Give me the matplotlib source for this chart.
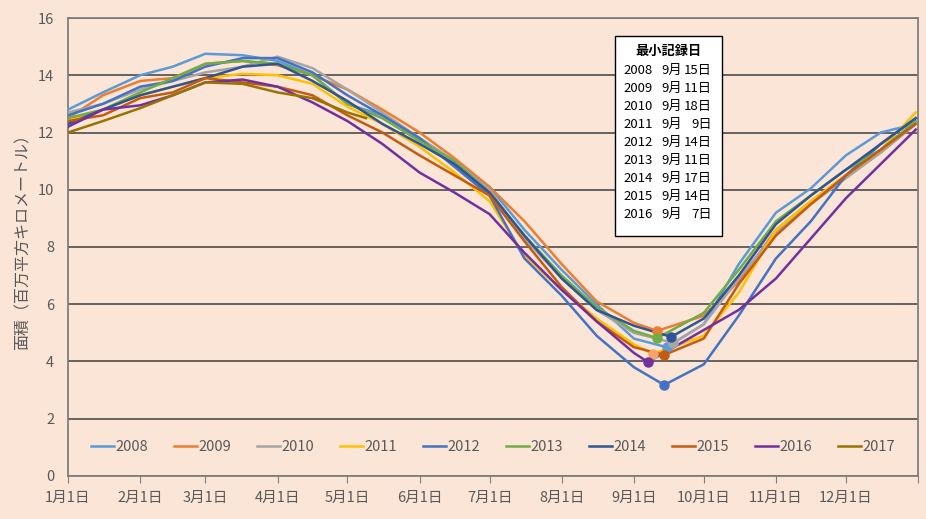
import matplotlib
matplotlib.use("Agg")
import matplotlib.pyplot as plt
from matplotlib.patches import Rectangle

plt.rcParams["font.family"] = ["Noto Sans CJK JP", "DejaVu Sans"]

# ── DATA ──────────────────────────────────────────────────────────────────────
days = [0, 15, 31, 45, 59, 75, 90, 105, 120, 135, 151, 166, 181, 196, 212,
        227, 243, 273, 288, 304, 319, 334, 349, 364]

ext_2008 = [12.8, 13.4, 14.0, 14.3, 14.75, 14.7, 14.5, 14.0, 13.0, 12.6, 11.8, 11.0,
            10.1, 8.6, 7.2, 6.0, 4.8, 5.3, 7.4, 9.2, 10.05, 11.2, 12.0, 12.3]
ext_2009 = [12.5, 13.3, 13.8, 13.9, 14.4, 14.5, 14.35, 14.0, 13.5, 12.8, 12.0, 11.1,
            10.1, 8.9, 7.4, 6.1, 5.35, 5.6, 6.8, 8.6, 9.6, 10.5, 11.3, 12.3]
ext_2010 = [12.7, 13.0, 13.5, 13.8, 14.1, 14.3, 14.65, 14.25, 13.5, 12.7, 11.8, 11.0,
            10.0, 8.3, 6.9, 5.8, 5.0, 5.3, 6.9, 8.5, 9.5, 10.4, 11.3, 12.3]
ext_2011 = [12.4, 12.8, 13.3, 13.6, 13.9, 14.05, 14.0, 13.7, 12.9, 12.3, 11.5, 10.6,
            9.6, 7.7, 6.5, 5.5, 4.6, 4.9, 6.4, 8.6, 9.6, 10.5, 11.4, 12.7]
ext_2012 = [12.6, 13.0, 13.6, 13.8, 14.3, 14.6, 14.6, 14.1, 13.3, 12.6, 11.8, 10.8,
            9.8, 7.6, 6.3, 4.9, 3.8, 3.9, 5.6, 7.6, 8.9, 10.5, 11.6, 12.5]
ext_2013 = [12.5, 12.8, 13.4, 13.9, 14.4, 14.5, 14.4, 14.0, 13.0, 12.5, 11.7, 11.0,
            9.9, 8.4, 7.0, 5.9, 5.07, 5.7, 7.2, 8.9, 9.8, 10.7, 11.4, 12.4]
ext_2014 = [12.3, 12.8, 13.3, 13.6, 13.9, 14.3, 14.4, 13.8, 13.1, 12.3, 11.6, 10.9,
            9.9, 8.4, 6.9, 5.8, 5.25, 5.5, 7.0, 8.8, 9.8, 10.7, 11.6, 12.5]
ext_2015 = [12.4, 12.6, 13.2, 13.4, 13.9, 13.75, 13.6, 13.3, 12.6, 12.0, 11.2, 10.5,
            9.8, 8.2, 6.6, 5.4, 4.5, 4.8, 6.7, 8.4, 9.5, 10.5, 11.4, 12.3]
ext_2016 = [12.2, 12.8, 12.95, 13.3, 13.75, 13.85, 13.6, 13.05, 12.4, 11.6, 10.6, 9.9,
            9.15, 7.8, 6.5, 5.4, 4.3, 5.1, 5.8, 6.9, 8.3, 9.7, 10.9, 12.1]

days_2017 = [0, 15, 31, 45, 59, 75, 90, 105, 120, 128]
ext_2017 = [12.0, 12.4, 12.85, 13.3, 13.75, 13.7, 13.4, 13.2, 12.7, 12.5]

years = ["2008", "2009", "2010", "2011", "2012", "2013", "2014", "2015", "2016"]
series = [ext_2008, ext_2009, ext_2010, ext_2011, ext_2012, ext_2013, ext_2014,
          ext_2015, ext_2016]

# 最小記録日 (day of year from Jan 1 = 0) and minimum extent
min_days = [257, 253, 260, 251, 256, 253, 259, 256, 249]
min_vals = [4.5, 5.07, 4.65, 4.26, 3.18, 4.82, 4.86, 4.23, 3.98]
min_labels = ["15日", "11日", "18日", "9日", "14日", "11日", "17日", "14日", "7日"]

colors = ["#5B9BD5", "#ED7D31", "#A5A5A5", "#FFC000", "#4472C4", "#70AD47",
          "#2F5597", "#C55A11", "#7030A0"]
marker_colors = ["#5B9BD5", "#ED7D31", "#A5A5A5", "#F4A46C", "#4472C4", "#70AD47",
                 "#2F5597", "#C55A11", "#7030A0"]
color_2017 = "#997300"

month_ticks = [0, 31, 59, 90, 120, 151, 181, 212, 243, 273, 304, 334, 365]
month_labels = ["1月1日", "2月1日", "3月1日", "4月1日", "5月1日", "6月1日", "7月1日",
                "8月1日", "9月1日", "10月1日", "11月1日", "12月1日", ""]

# ── PLOT ──────────────────────────────────────────────────────────────────────
bg = "#FBE5D6"
txt = "#595959"

fig = plt.figure(figsize=(9.26, 5.19), dpi=100, facecolor=bg)
ax = fig.add_axes([0.0734, 0.0829, 0.918, 0.8824], facecolor=bg)

for yr, vals, c, mc, md, mv in zip(years, series, colors, marker_colors, min_days, min_vals):
    pts = sorted(list(zip(days, vals)) + [(md, mv)])
    ax.plot([p[0] for p in pts], [p[1] for p in pts], color=c, lw=1.8, label=yr,
            solid_joinstyle="round", zorder=3)
    ax.plot([md], [mv], "o", color=mc, ms=6.5, zorder=4)

ax.plot(days_2017, ext_2017, color=color_2017, lw=1.8, label="2017", zorder=3)

ax.set_xlim(0, 365)
ax.set_ylim(0, 16)
ax.set_yticks(range(0, 17, 2))
ax.set_xticks(month_ticks)
ax.set_xticklabels(month_labels)
ax.grid(axis="y", color="#595959", lw=1.3, zorder=1)
ax.tick_params(axis="y", length=0, pad=10, labelsize=10.5, labelcolor=txt)
ax.tick_params(axis="x", direction="out", length=5, color="#7F7F7F", pad=6,
               labelsize=10.5, labelcolor=txt)
for s in ax.spines.values():
    s.set_color("#7F7F7F")
    s.set_linewidth(1.3)

ax.set_ylabel("面積（百万平方キロメートル）", fontsize=11.5, color=txt)
ax.yaxis.set_label_coords(-0.043, 0.52)

leg = ax.legend(loc="center", bbox_to_anchor=(0.5, 0.063), ncol=10, frameon=False,
                fontsize=10.5, handlelength=1.6, handletextpad=0.1,
                columnspacing=1.75, labelcolor=txt)

# 最小記録日 box
bx0, bx1 = 0.6435, 0.769
by0, by1 = 0.524, 0.9607
ax.add_patch(Rectangle((bx0, by0), bx1 - bx0, by1 - by0, transform=ax.transAxes,
                       facecolor="white", edgecolor="black", lw=1.0, zorder=5))
ax.text((bx0 + bx1) / 2, 0.927, "最小記録日", transform=ax.transAxes, ha="center",
        va="center", fontsize=9.5, fontweight="bold", color="black", zorder=6)
for i, (yr, lab) in enumerate(zip(years, min_labels)):
    ty = 0.886 - i * 0.0393
    ax.text(0.6535, ty, yr, transform=ax.transAxes, ha="left", va="center",
            fontsize=9.5, color="black", zorder=6)
    ax.text(0.6985, ty, "9月", transform=ax.transAxes, ha="left", va="center",
            fontsize=9.5, color="black", zorder=6)
    ax.text(0.7575, ty, lab, transform=ax.transAxes, ha="right", va="center",
            fontsize=9.5, color="black", zorder=6)

fig.savefig("out.png", dpi=100, facecolor=bg)
